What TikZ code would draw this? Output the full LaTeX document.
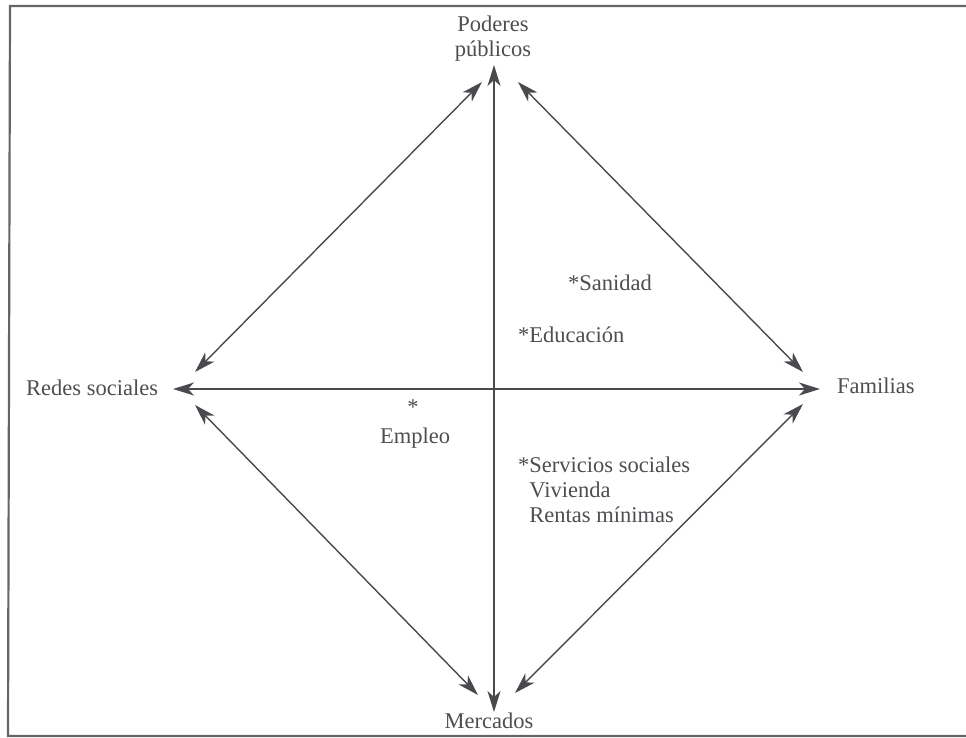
\documentclass[tikz,border=0pt]{standalone}
\usepackage{fontspec}
\setmainfont{Liberation Serif}
\usetikzlibrary{arrows.meta}
\definecolor{ink}{HTML}{4A4A4E}
\definecolor{txt}{HTML}{4E4E52}
\tikzset{
  lbl/.style={text=txt, font=\fontsize{22.5}{25}\selectfont, inner sep=0pt},
  rel/.style={draw=ink, line width=1.4pt, {Stealth[length=21pt,width=13pt,inset=6pt]}-{Stealth[length=21pt,width=13pt,inset=6pt]}},
  frame/.style={draw=ink!85, line width=2.2pt}
}
\begin{document}
\begin{tikzpicture}[x=1pt,y=-1pt]
\useasboundingbox (0,0) rectangle (966,738);
% frame (open on the right)
\coordinate (ftr) at (966,6);
\coordinate (ftl) at (10,6);
\coordinate (fbl) at (8,736);
\coordinate (fbr) at (966,736);
\draw[frame] (ftr) -- (ftl) -- (fbl) -- (fbr);
% labels
\node[lbl, anchor=base, align=center] (pp) at (493,57) {Poderes\\públicos};
\node[lbl, anchor=base west] (rs) at (26,395) {Redes sociales};
\node[lbl, anchor=base west] (fa) at (837,393) {Familias};
\node[lbl, anchor=base] (me) at (489,728) {Mercados};
\node[lbl, anchor=base west] (san) at (568,290) {*Sanidad};
\node[lbl, anchor=base west] (edu) at (518,342) {*Educación};
\node[lbl, anchor=base] (emp) at (415,443) {Empleo};
\node[lbl, anchor=base] (empst) at (413,414) {*};
\node[lbl, anchor=base west, align=left] (ser) at (518,522) {*Servicios sociales\\\phantom{*}Vivienda\\\phantom{*}Rentas mínimas};
% arrow end points
\coordinate (vt) at (494,65);
\coordinate (vb) at (494,712);
\coordinate (hl) at (173,389);
\coordinate (hr) at (820,389);
\coordinate (ult) at (482,82);
\coordinate (ulb) at (195,372);
\coordinate (urt) at (518,82);
\coordinate (urb) at (803,372);
\coordinate (llt) at (195,405);
\coordinate (llb) at (478,695);
\coordinate (lrt) at (803,404);
\coordinate (lrb) at (515,693);
\draw[rel] (vt) -- (vb);
\draw[rel] (hl) -- (hr);
\draw[rel] (ult) -- (ulb);
\draw[rel] (urt) -- (urb);
\draw[rel] (llt) -- (llb);
\draw[rel] (lrt) -- (lrb);
\end{tikzpicture}
\end{document}
